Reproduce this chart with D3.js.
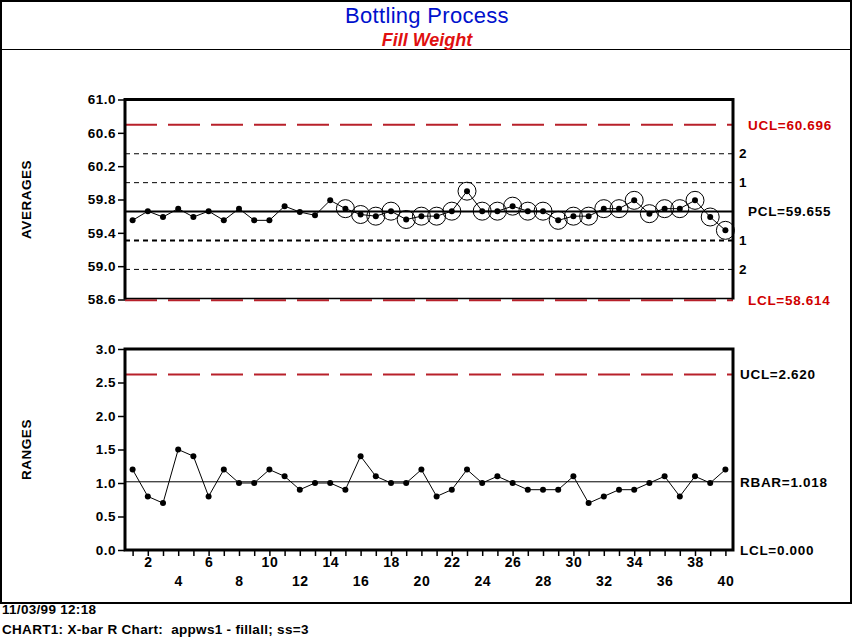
<!DOCTYPE html>
<html>
<head>
<meta charset="utf-8">
<script src="https://cdn.jsdelivr.net/npm/d3@7"></script>
<style>
  body { margin: 0; background: #fff; }
  svg { display: block; font-family: "Liberation Sans", Arial, sans-serif; }
</style>
</head>
<body>
<svg width="853" height="641"></svg>
<script>
// sample numbers and measured values
var samples = [1,2,3,4,5,6,7,8,9,10,11,12,13,14,15,16,17,18,19,20,
               21,22,23,24,25,26,27,28,29,30,31,32,33,34,35,36,37,38,39,40];

var averages = [59.55,59.66,59.59,59.69,59.59,59.66,59.55,59.69,59.55,59.55,
                59.72,59.65,59.61,59.79,59.69,59.62,59.60,59.66,59.56,59.60,
                59.60,59.66,59.90,59.66,59.66,59.72,59.66,59.66,59.55,59.60,
                59.60,59.69,59.69,59.79,59.63,59.69,59.69,59.79,59.59,59.43];

var ranges = [1.2,0.8,0.7,1.5,1.4,0.8,1.2,1.0,1.0,1.2,
              1.1,0.9,1.0,1.0,0.9,1.4,1.1,1.0,1.0,1.2,
              0.8,0.9,1.2,1.0,1.1,1.0,0.9,0.9,0.9,1.1,
              0.7,0.8,0.9,0.9,1.0,1.1,0.8,1.1,1.0,1.2];

// samples circled as out-of-control run
var flagged = [15,16,17,18,19,20,21,22,23,24,25,26,27,28,29,30,
               31,32,33,34,35,36,37,38,39,40];

var avgLimits = {ucl: 60.696, cl: 59.655, lcl: 58.614};
var rngLimits = {ucl: 2.620, cl: 1.018, lcl: 0.000};

var avgTicks = [58.6, 59.0, 59.4, 59.8, 60.2, 60.6, 61.0];
var rngTicks = [0.0, 0.5, 1.0, 1.5, 2.0, 2.5, 3.0];

var svg = d3.select("svg");
var red = "#b8202a";
var boldFont = "bold 13.5px 'Liberation Sans', Arial, sans-serif";

// outer frame and title
svg.append("rect")
    .attr("x", 1).attr("y", 1)
    .attr("width", 850).attr("height", 602)
    .attr("fill", "none").attr("stroke", "#000").attr("stroke-width", 2);
svg.append("line")
    .attr("x1", 1).attr("x2", 851).attr("y1", 49.5).attr("y2", 49.5)
    .attr("stroke", "#000").attr("stroke-width", 1.2);

svg.append("text")
    .attr("x", 427).attr("y", 23)
    .attr("text-anchor", "middle")
    .attr("fill", "#0010cc")
    .style("font-size", "22px")
    .style("letter-spacing", "0.3px")
    .text("Bottling Process");
svg.append("text")
    .attr("x", 427).attr("y", 46)
    .attr("text-anchor", "middle")
    .attr("fill", "#e01010")
    .style("font-size", "18px").style("font-weight", "bold").style("font-style", "italic")
    .text("Fill Weight");

// footer
svg.append("text").attr("x", 2).attr("y", 614)
    .style("font", "bold 13.5px 'Liberation Sans', Arial, sans-serif")
    .style("letter-spacing", "0.3px")
    .text("11/03/99 12:18");
svg.append("text").attr("x", 2).attr("y", 634)
    .style("font", "bold 13.5px 'Liberation Sans', Arial, sans-serif")
    .style("letter-spacing", "0.3px")
    .attr("xml:space", "preserve")
    .text("CHART1: X-bar R Chart:  appws1 - fillall; ss=3");

var x = d3.scaleLinear()
    .domain([0.5, 40.5])
    .range([125, 733]);

var yA = d3.scaleLinear()
    .domain([58.6, 61.0])
    .range([299.5, 99.5]);

var yR = d3.scaleLinear()
    .domain([0, 3.0])
    .range([550, 349]);

function styleAxis(g) {
  g.select(".domain").remove();
  g.selectAll("line").attr("stroke", "#000").attr("stroke-width", 1.5);
  g.selectAll("text").style("font", boldFont).style("letter-spacing", "0.5px").attr("fill", "#000");
}

function hline(g, y, stroke, width, dash) {
  g.append("line")
      .attr("x1", 125).attr("x2", 733)
      .attr("y1", y).attr("y2", y)
      .attr("stroke", stroke)
      .attr("stroke-width", width)
      .attr("stroke-dasharray", dash || null);
}

function rightLabel(g, xp, y, txt, color) {
  g.append("text")
      .attr("x", xp).attr("y", y).attr("dy", "0.35em")
      .attr("fill", color)
      .style("font", boldFont)
      .style("letter-spacing", "0.7px")
      .text(txt);
}

// ---- averages chart ----
var gA = svg.append("g");

gA.append("g")
    .attr("transform", "translate(125,0)")
    .call(d3.axisLeft(yA).tickValues(avgTicks).tickSize(7).tickPadding(2).tickFormat(d3.format(".1f")))
    .call(styleAxis);

var sigma = (avgLimits.ucl - avgLimits.cl) / 3;
[2, 1, -1, -2].forEach(function(k) {
  hline(gA, yA(avgLimits.cl + k * sigma), "#000", k == -1 ? 2 : 1, "5,4");
  rightLabel(gA, 739, yA(avgLimits.cl + k * sigma), String(Math.abs(k)), "#000");
});
hline(gA, yA(avgLimits.ucl), red, 2, "32,11");
hline(gA, yA(avgLimits.lcl) + 2, red, 2, "32,11");
hline(gA, yA(avgLimits.cl), "#000", 2);

rightLabel(gA, 748, yA(avgLimits.ucl), "UCL=" + avgLimits.ucl.toFixed(3), "#d00000");
rightLabel(gA, 748, yA(avgLimits.cl), "PCL=" + avgLimits.cl.toFixed(3), "#000");
rightLabel(gA, 748, yA(avgLimits.lcl) + 2, "LCL=" + avgLimits.lcl.toFixed(3), "#d00000");

gA.append("path")
    .datum(averages)
    .attr("fill", "none").attr("stroke", "#000").attr("stroke-width", 1)
    .attr("d", d3.line()
        .x(function(d, i) { return x(samples[i]); })
        .y(function(d) { return yA(d); }));

gA.selectAll("circle.ring")
    .data(flagged)
    .enter().append("circle")
      .attr("class", "ring")
      .attr("cx", function(s) { return x(s); })
      .attr("cy", function(s) { return yA(averages[s - 1]); })
      .attr("r", 9)
      .attr("fill", "none").attr("stroke", "#000").attr("stroke-width", 1);

gA.selectAll("circle.dot")
    .data(averages)
    .enter().append("circle")
      .attr("class", "dot")
      .attr("cx", function(d, i) { return x(samples[i]); })
      .attr("cy", function(d) { return yA(d); })
      .attr("r", 3).attr("fill", "#000");

gA.append("path")
    .attr("d", "M125,299.5V99.5H733V299.5")
    .attr("fill", "none").attr("stroke", "#000").attr("stroke-width", 3);
gA.append("line")
    .attr("x1", 125).attr("x2", 733).attr("y1", 298.5).attr("y2", 298.5)
    .attr("stroke", "#000").attr("stroke-width", 1.5);

gA.append("text")
    .attr("transform", "translate(31," + ((yA.range()[0] + yA.range()[1]) / 2) + ") rotate(-90)")
    .attr("text-anchor", "middle")
    .style("font", boldFont)
    .style("letter-spacing", "0.5px")
    .text("AVERAGES");

// ---- ranges chart ----
var gR = svg.append("g");

gR.append("g")
    .attr("transform", "translate(125,0)")
    .call(d3.axisLeft(yR).tickValues(rngTicks).tickSize(7).tickPadding(2).tickFormat(d3.format(".1f")))
    .call(styleAxis);

var xAxis = gR.append("g")
    .attr("transform", "translate(0,550)")
    .call(d3.axisBottom(x).tickValues(samples).tickSize(6).tickPadding(3)
        .tickFormat(function(d) { return d % 2 == 0 ? d : ""; }))
    .call(styleAxis);
xAxis.selectAll(".tick text")
    .attr("dy", function(d) { return d % 4 == 0 ? "1.93em" : "0.55em"; })
    .style("font", "bold 14px 'Liberation Sans', Arial, sans-serif");

hline(gR, yR(rngLimits.ucl), red, 2, "32,11");
hline(gR, yR(rngLimits.cl), "#000", 1);

rightLabel(gR, 740, yR(rngLimits.ucl), "UCL=" + rngLimits.ucl.toFixed(3), "#000");
rightLabel(gR, 740, yR(rngLimits.cl), "RBAR=" + rngLimits.cl.toFixed(3), "#000");
rightLabel(gR, 740, yR(rngLimits.lcl), "LCL=" + rngLimits.lcl.toFixed(3), "#000");

gR.append("path")
    .datum(ranges)
    .attr("fill", "none").attr("stroke", "#000").attr("stroke-width", 1)
    .attr("d", d3.line()
        .x(function(d, i) { return x(samples[i]); })
        .y(function(d) { return yR(d); }));

gR.selectAll("circle.dot")
    .data(ranges)
    .enter().append("circle")
      .attr("class", "dot")
      .attr("cx", function(d, i) { return x(samples[i]); })
      .attr("cy", function(d) { return yR(d); })
      .attr("r", 3).attr("fill", "#000");

gR.append("rect")
    .attr("x", 125).attr("y", 349)
    .attr("width", 608).attr("height", 201)
    .attr("fill", "none").attr("stroke", "#000").attr("stroke-width", 3);

gR.append("text")
    .attr("transform", "translate(31," + ((yR.range()[0] + yR.range()[1]) / 2) + ") rotate(-90)")
    .attr("text-anchor", "middle")
    .style("font", boldFont)
    .style("letter-spacing", "0.5px")
    .text("RANGES");
</script>
</body>
</html>
